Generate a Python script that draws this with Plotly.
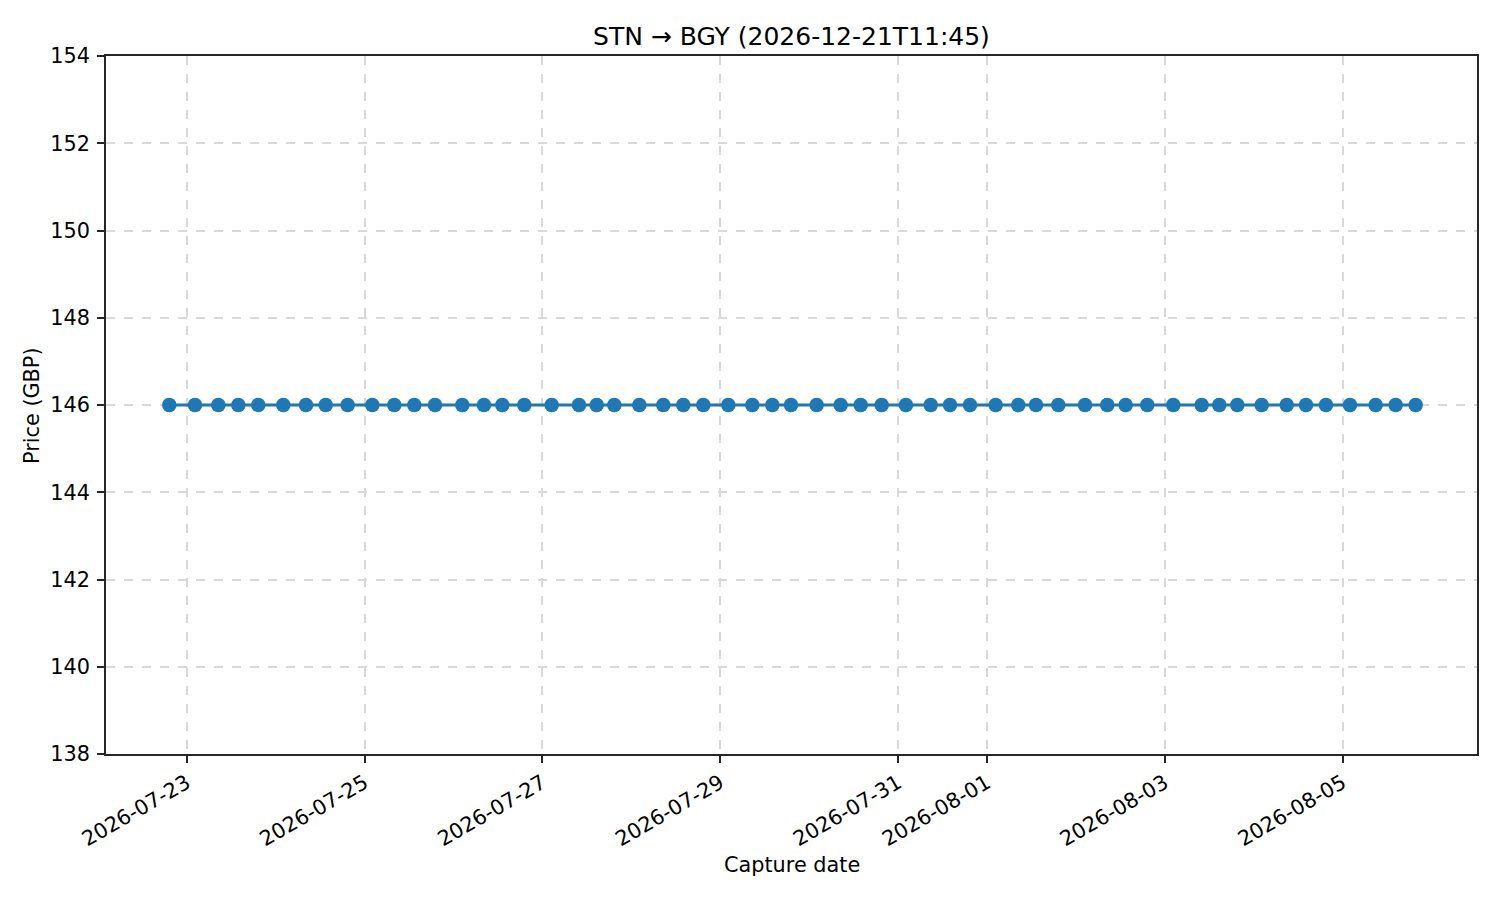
import plotly.graph_objects as go

# capture timestamps, one price per capture
capture_times = [
    "2026-07-22 19:18", "2026-07-23 02:14", "2026-07-23 08:32", "2026-07-23 13:56",
    "2026-07-23 19:19", "2026-07-24 02:04", "2026-07-24 08:12", "2026-07-24 13:31",
    "2026-07-24 19:27", "2026-07-25 02:06", "2026-07-25 08:02", "2026-07-25 13:26",
    "2026-07-25 19:01", "2026-07-26 02:23", "2026-07-26 08:14", "2026-07-26 13:11",
    "2026-07-26 19:07", "2026-07-27 02:31", "2026-07-27 09:53", "2026-07-27 14:40",
    "2026-07-27 19:25", "2026-07-28 02:10", "2026-07-28 08:38", "2026-07-28 14:02",
    "2026-07-28 19:26", "2026-07-29 02:11", "2026-07-29 08:40", "2026-07-29 14:04",
    "2026-07-29 19:06", "2026-07-30 02:02", "2026-07-30 08:31", "2026-07-30 13:55",
    "2026-07-30 19:35", "2026-07-31 02:08", "2026-07-31 08:49", "2026-07-31 14:01",
    "2026-07-31 19:25", "2026-08-01 02:21", "2026-08-01 08:27", "2026-08-01 13:14",
    "2026-08-01 19:15", "2026-08-02 02:28", "2026-08-02 08:28", "2026-08-02 13:26",
    "2026-08-02 19:16", "2026-08-03 02:17", "2026-08-03 09:57", "2026-08-03 14:42",
    "2026-08-03 19:34", "2026-08-04 02:09", "2026-08-04 08:54", "2026-08-04 14:07",
    "2026-08-04 19:30", "2026-08-05 01:59", "2026-08-05 08:55", "2026-08-05 14:19",
    "2026-08-05 19:43",
]
prices = [
    146, 146, 146, 146, 146, 146, 146, 146, 146, 146, 146, 146,
    146, 146, 146, 146, 146, 146, 146, 146, 146, 146, 146, 146,
    146, 146, 146, 146, 146, 146, 146, 146, 146, 146, 146, 146,
    146, 146, 146, 146, 146, 146, 146, 146, 146, 146, 146, 146,
    146, 146, 146, 146, 146, 146, 146, 146, 146,
]

x_ticks = ["2026-07-23", "2026-07-25", "2026-07-27", "2026-07-29",
           "2026-07-31", "2026-08-01", "2026-08-03", "2026-08-05"]
y_ticks = [138, 140, 142, 144, 146, 148, 150, 152, 154]

title = "STN → BGY (2026-12-21T11:45)"
font = "DejaVu Sans, Liberation Sans, sans-serif"
spine = "#262626"

fig = go.Figure()
fig.add_trace(go.Scatter(
    x=capture_times, y=prices, mode="lines+markers",
    line=dict(color="#1f77b4", width=3),
    marker=dict(color="#1f77b4", size=14.5),
    showlegend=False,
))

axis_style = dict(
    showline=True, linecolor=spine, linewidth=1.7, mirror=True,
    ticks="outside", ticklen=7, tickwidth=1.7, tickcolor=spine,
    showgrid=True, gridcolor="#d9d9d9", gridwidth=1.6, griddash="dash",
    zeroline=False, tickfont=dict(size=20.8, color="black"),
)

fig.update_xaxes(
    type="date", range=["2026-07-22 02:13", "2026-08-06 12:16"],
    tickvals=x_ticks, ticktext=x_ticks, tickangle=-30, **axis_style,
)
fig.update_yaxes(range=[138, 154], tickvals=y_ticks, ticklabelstandoff=3,
                 **axis_style)

# the page body adds an 8px offset, so the figure is 8px smaller than the window
fig.update_layout(
    width=1492, height=892,
    margin=dict(l=98, r=23, t=48, b=146),
    paper_bgcolor="white", plot_bgcolor="white",
    font=dict(family=font, color="black"),
    title=dict(text=title, x=0.5251, xanchor="center", y=1 - 28 / 892,
               yanchor="middle", font=dict(size=25, color="black")),
    annotations=[
        dict(text="Capture date", xref="paper", yref="paper", x=0.5, y=-0.159,
             xanchor="center", yanchor="middle", showarrow=False,
             font=dict(size=20.8, color="black")),
        dict(text="Price (GBP)", xref="paper", yref="paper", x=-0.054, y=0.5,
             xanchor="center", yanchor="middle", textangle=-90, showarrow=False,
             font=dict(size=20.8, color="black")),
    ],
)

fig.write_html("out.html")
